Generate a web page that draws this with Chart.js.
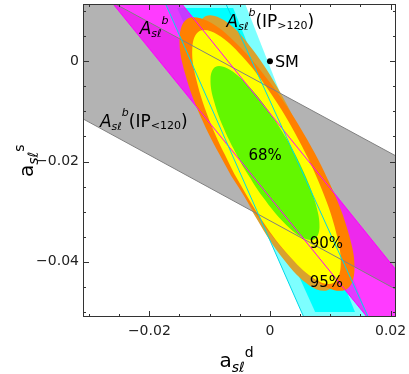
<!DOCTYPE html>
<html>
<head>
<meta charset="utf-8">
<script src="https://cdn.jsdelivr.net/npm/chart.js@4.4.1/dist/chart.umd.min.js"></script>
<style>
  html, body { margin: 0; padding: 0; background: #fff; }
  canvas { display: block; }
</style>
</head>
<body>
<canvas id="grafico" width="409" height="374"></canvas>
<script>
// axis ranges and ticks
const xMin = -0.031, xMax = 0.0209;
const yMin = -0.051, yMax = 0.0114;
const xTicks = [-0.02, 0, 0.02];
const xMinorTicks = [-0.03, -0.025, -0.015, -0.01, -0.005, 0.005, 0.01, 0.015];
const yTicks = [-0.04, -0.02, 0];
const yMinorTicks = [0.01, 0.005, -0.005, -0.01, -0.015, -0.025, -0.03, -0.035, -0.045, -0.05];

// A_sl^b(IP<120) band (gray)
const bandIpLow = [[-0.031, 0.0149], [0.0209, -0.0189], [0.0209, -0.0455], [-0.031, -0.0115]];
// A_sl^b band (magenta)
const bandAsl = [[-0.0260, 0.0114], [-0.0146, 0.0114], [0.0209, -0.0416], [0.0209, -0.051], [0.0161, -0.051]];
// A_sl^b(IP>120) band (cyan)
const bandIpHigh = [[-0.0173, 0.0114], [-0.0041, 0.0114], [0.0163, -0.051], [0.0056, -0.051]];
const bandIpHighCore = [[-0.0154, 0.0106], [-0.0061, 0.0106], [0.0141, -0.0500], [0.0075, -0.0500]];

// band edges
const edgesIpLow = [[[-0.031, 0.0149], [0.0209, -0.0189]], [[-0.031, -0.0115], [0.0209, -0.0455]]];
const edgesAsl = [[[-0.0260, 0.0114], [0.0161, -0.051]], [[-0.0146, 0.0114], [0.0209, -0.0416]]];
const edgesIpHigh = [[[-0.0173, 0.0114], [0.0056, -0.051]], [[-0.0073, 0.0114], [0.0163, -0.051]]];

// fit contours
const contour95a = [[-0.00640, -0.02147], [-0.00982, -0.01077], [-0.01182, -0.00122], [-0.01210, 0.00572],
  [-0.01061, 0.00901], [-0.00758, 0.00814], [-0.00347, 0.00325], [0.00110, -0.00493],
  [0.00542, -0.01514], [0.00884, -0.02584], [0.01084, -0.03539], [0.01112, -0.04233],
  [0.00963, -0.04562], [0.00659, -0.04475], [0.00249, -0.03986], [-0.00208, -0.03168]];
const contour95b = [[-0.00649, -0.02275], [-0.01109, -0.01211], [-0.01408, -0.00244], [-0.01499, 0.00478],
  [-0.01370, 0.00846], [-0.01040, 0.00804], [-0.00559, 0.00357], [0.00000, -0.00426],
  [0.00551, -0.01425], [0.01011, -0.02490], [0.01309, -0.03457], [0.01401, -0.04179],
  [0.01272, -0.04547], [0.00942, -0.04505], [0.00461, -0.04058], [-0.00098, -0.03275]];
const contour90 = [[-0.00590, -0.02251], [-0.00975, -0.01265], [-0.01219, -0.00376], [-0.01287, 0.00278],
  [-0.01168, 0.00600], [-0.00879, 0.00539], [-0.00465, 0.00105], [0.00010, -0.00635],
  [0.00476, -0.01570], [0.00860, -0.02556], [0.01104, -0.03444], [0.01172, -0.04099],
  [0.01053, -0.04420], [0.00764, -0.04360], [0.00351, -0.03926], [-0.00125, -0.03186]];
const contour68 = [[-0.00453, -0.02088], [-0.00740, -0.01411], [-0.00927, -0.00799], [-0.00985, -0.00343],
  [-0.00906, -0.00114], [-0.00702, -0.00147], [-0.00403, -0.00435], [-0.00055, -0.00936],
  [0.00288, -0.01573], [0.00575, -0.02250], [0.00762, -0.02862], [0.00821, -0.03318],
  [0.00742, -0.03547], [0.00537, -0.03514], [0.00238, -0.03226], [-0.00109, -0.02725]];

const smPoint = [[0, 0]];

// text labels: [text, size, italic, shift]
const notes = [
  { at: [-0.0216, 0.0054], parts: [['A', 17, 1, 0], ['s\u2113', 11, 1, 3], ['b', 11, 1, -10]] },
  { at: [-0.0072, 0.0069], parts: [['A', 17, 1, 0], ['s\u2113', 11, 1, 3], ['b', 11, 1, -11],
    ['(IP', 17, 0, 0], ['>120', 11, 0, 2], [')', 17, 0, 0]] },
  { at: [-0.0282, -0.0131], parts: [['A', 17, 1, 0], ['s\u2113', 11, 1, 3], ['b', 11, 1, -11],
    ['(IP', 17, 0, 0], ['<120', 11, 0, 2], [')', 17, 0, 0]] },
  { at: [0, 0], dx: 5, dy: 6, parts: [['SM', 16, 0, 0]] },
  { at: [-0.0008, -0.0197], center: true, parts: [['68%', 15, 0, 0]] },
  { at: [0.0066, -0.0372], parts: [['90%', 15, 0, 0]] },
  { at: [0.0066, -0.0450], parts: [['95%', 15, 0, 0]] }
];
const xTitle = [['a', 20, 0, 0], ['s\u2113', 14, 1, 5], ['d', 14, 0, -9.5]];
const yTitle = [['a', 20, 0, 0], ['s\u2113', 14, 1, 5], ['s', 14, 0, -9.5]];

const toXY = pts => pts.map(p => ({ x: p[0], y: p[1] }));

function area(points, color, order, smooth) {
  const pts = smooth ? points.concat([points[0]]) : points;
  return {
    data: toXY(pts),
    backgroundColor: color,
    borderColor: 'transparent',
    borderWidth: 0,
    fill: 'shape',
    pointRadius: 0,
    tension: smooth ? 0.38 : 0,
    order: order
  };
}

function edge(points, color, order) {
  return {
    data: toXY(points),
    borderColor: color,
    borderWidth: 1,
    fill: false,
    pointRadius: 0,
    tension: 0,
    order: order
  };
}

function drawRich(ctx, x, y, parts, rotate) {
  ctx.save();
  ctx.translate(x, y);
  if (rotate) ctx.rotate(-Math.PI / 2);
  ctx.textBaseline = 'alphabetic';
  ctx.textAlign = 'left';
  let cx = 0;
  for (const [t, size, italic, shift] of parts) {
    ctx.font = (italic ? 'italic ' : '') + size + 'px "DejaVu Sans"';
    ctx.fillText(t, cx, shift);
    cx += ctx.measureText(t).width;
  }
  ctx.restore();
}

function richWidth(ctx, parts) {
  let w = 0;
  for (const [t, size, italic] of parts) {
    ctx.font = (italic ? 'italic ' : '') + size + 'px "DejaVu Sans"';
    w += ctx.measureText(t).width;
  }
  return w;
}

// frame, inward ticks and labels
const framePlugin = {
  id: 'frame',
  afterDraw(chart) {
    const { ctx, chartArea: a, scales: { x, y } } = chart;
    ctx.save();
    ctx.strokeStyle = '#333';
    ctx.lineWidth = 1;
    ctx.strokeRect(a.left + 0.5, a.top + 0.5, a.right - a.left - 1, a.bottom - a.top - 1);
    ctx.beginPath();
    const xs = xTicks.map(v => [v, 6]).concat(xMinorTicks.map(v => [v, 3]));
    for (const [v, len] of xs) {
      const px = Math.round(x.getPixelForValue(v)) + 0.5;
      ctx.moveTo(px, a.bottom); ctx.lineTo(px, a.bottom - len);
      ctx.moveTo(px, a.top); ctx.lineTo(px, a.top + len);
    }
    const ys = yTicks.map(v => [v, 6]).concat(yMinorTicks.map(v => [v, 3]));
    for (const [v, len] of ys) {
      const py = Math.round(y.getPixelForValue(v)) + 0.5;
      ctx.moveTo(a.left, py); ctx.lineTo(a.left + len, py);
      ctx.moveTo(a.right, py); ctx.lineTo(a.right - len, py);
    }
    ctx.stroke();

    ctx.fillStyle = '#000';
    for (const n of notes) {
      let px = x.getPixelForValue(n.at[0]) + (n.dx || 0);
      const py = y.getPixelForValue(n.at[1]) + (n.dy || 0);
      if (n.center) px -= richWidth(ctx, n.parts) / 2;
      drawRich(ctx, px, py, n.parts, false);
    }
    drawRich(ctx, a.left + 136.5, a.bottom + 49.5, xTitle, false);
    drawRich(ctx, 33, 177, yTitle, true);
    ctx.restore();
  }
};

const noPad = s => { s.paddingTop = 0; s.paddingBottom = 0; s.paddingLeft = 0; s.paddingRight = 0; };
const fmt = v => v === 0 ? '0' : (v < 0 ? '\u2212' : '') + Math.abs(v);
const tickFont = { family: 'DejaVu Sans', size: 14 };

const ctx = document.getElementById('grafico').getContext('2d');
const grafico = new Chart(ctx, {
  type: 'line',
  data: {
    datasets: [
      area(bandIpLow, '#b3b3b3', 20, false),
      area(bandIpHigh, '#7dffff', 19, false),
      area(bandIpHighCore, '#00ffff', 18, false),
      area(bandAsl, 'rgba(255, 0, 255, 0.77)', 17, false),
      area(contour95a, '#d9a22e', 16, true),
      area(contour95b, '#ff8000', 15, true),
      area(contour90, '#ffff00', 14, true),
      area(contour68, '#63f700', 13, true),
      edge(edgesIpLow[0], '#808080', 10),
      edge(edgesIpLow[1], '#808080', 10),
      edge(edgesAsl[0], '#ff00ff', 9),
      edge(edgesAsl[1], '#ff00ff', 9),
      edge(edgesIpHigh[0], '#00d8e8', 8),
      edge(edgesIpHigh[1], '#00d8e8', 8),
      {
        data: toXY(smPoint),
        showLine: false,
        pointRadius: 3,
        pointBackgroundColor: '#000',
        pointBorderWidth: 0,
        order: 1
      }
    ]
  },
  options: {
    responsive: false,
    animation: false,
    events: [],
    layout: { padding: { top: 4, right: 13, left: 0, bottom: 0 } },
    scales: {
      x: {
        type: 'linear',
        min: xMin,
        max: xMax,
        grid: { display: false, drawTicks: false },
        border: { display: false },
        afterFit: s => { s.height = 57; noPad(s); },
        afterBuildTicks: s => { s.ticks = xTicks.map(v => ({ value: v })); },
        ticks: { padding: 6, color: '#222', font: tickFont, maxRotation: 0, autoSkip: false, callback: fmt }
      },
      y: {
        type: 'linear',
        min: yMin,
        max: yMax,
        grid: { display: false, drawTicks: false },
        border: { display: false },
        afterFit: s => { s.width = 83; noPad(s); },
        afterBuildTicks: s => { s.ticks = yTicks.map(v => ({ value: v })); },
        ticks: { padding: 4, color: '#222', font: tickFont, autoSkip: false, callback: fmt }
      }
    },
    plugins: {
      legend: { display: false },
      tooltip: { enabled: false }
    }
  },
  plugins: [framePlugin]
});
</script>
</body>
</html>
